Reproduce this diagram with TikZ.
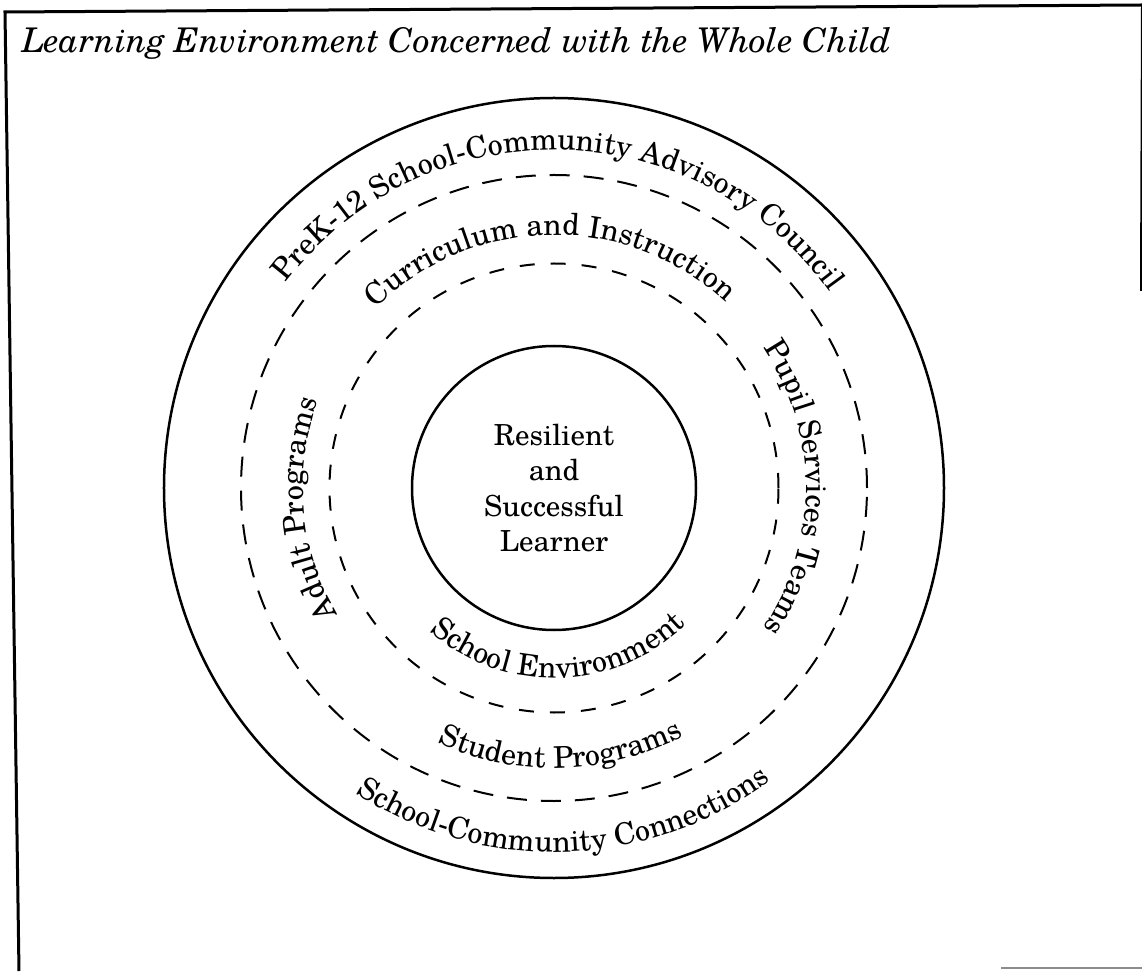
\documentclass[tikz,border=0pt]{standalone}
\usepackage{fontspec}
\setmainfont{texgyreschola}[Extension=.otf, UprightFont=*-regular, ItalicFont=*-italic, BoldFont=*-bold, BoldItalicFont=*-bolditalic]
\usetikzlibrary{decorations.text}
\newcommand\ringfont{\fontsize{30}{36}\selectfont}
\newcommand\titlefont{\fontsize{34}{40}\selectfont\itshape}
\tikzset{
  frameline/.style={line width=3pt},
  solidring/.style={line width=2.5pt},
  outerdash/.style={line width=2pt, dash pattern=on 20pt off 14pt},
  innerdash/.style={line width=2pt, dash pattern=on 15pt off 16pt},
  ringtext/.style args={#1}{decorate, decoration={text along path, text align=center, text={|\ringfont|#1}}}
}
\begin{document}
\begin{tikzpicture}[x=1pt,y=1pt]
\useasboundingbox (-554,-483) rectangle (588,488);
% frame
\coordinate (tl) at (-549,476);
\coordinate (tr) at (588,483);
\coordinate (rb) at (587,197);
\coordinate (lb) at (-535,-483);
\coordinate (g1) at (447,-480);
\coordinate (g2) at (588,-480);
\draw[frameline] (lb) -- (tl) -- (tr);
\draw[line width=2pt] (tr) -- (rb);
\draw[line width=1.5pt, black!45] (g1) -- (g2);
% title
\node[anchor=base west, font=\titlefont, inner sep=0] (title) at (-532,435) {Learning Environment Concerned with the Whole Child};
% circles
\coordinate (C) at (0,0);
\draw[solidring] (C) circle[radius=390];
\draw[outerdash] (C) circle[radius=313];
\draw[innerdash] (C) circle[radius=224.5];
\node[circle, draw, solidring, minimum size=284pt, inner sep=0, align=center,
      font=\fontsize{29}{35.5}\selectfont] (learner) at (C) {Resilient\\and\\Successful\\Learner};
% ring texts
\path[ringtext={PreK-12 School-Community Advisory Council}] (179:338) arc[start angle=179, end angle=-1, radius=338];
\path[ringtext={Curriculum and Instruction}] (181:253) arc[start angle=181, end angle=1, radius=253];
\path[ringtext={Pupil Services Teams}] (90:252) arc[start angle=90, end angle=-90, radius=252];
\path[ringtext={Adult Programs}] (275:251) arc[start angle=275, end angle=95, radius=251];
\path[ringtext={Student Programs}] (181.5:280) arc[start angle=181.5, end angle=361.5, radius=280];
\path[ringtext={School-Community Connections}] (181.8:364) arc[start angle=181.8, end angle=361.8, radius=364];
\path[ringtext={School Environment}] (181.5:190) arc[start angle=181.5, end angle=361.5, radius=190];
\end{tikzpicture}
\end{document}
